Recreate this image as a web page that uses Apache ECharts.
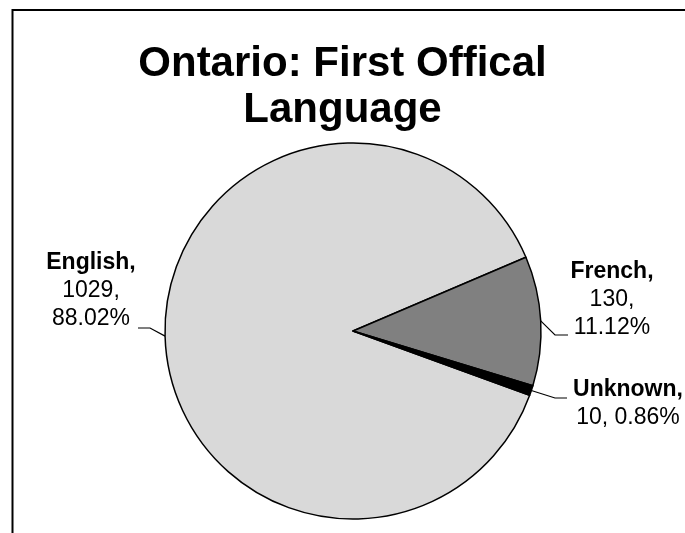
<!DOCTYPE html>
<html>
<head>
<meta charset="utf-8">
<script src="https://cdn.jsdelivr.net/npm/echarts@6/dist/echarts.min.js"></script>
<style>
  html, body { margin: 0; padding: 0; background: #fff; }
  #chart { width: 685px; height: 533px; }
</style>
</head>
<body>
<div id="chart"></div>
<script>
// Ontario residents by first official language spoken
const categories = ['English', 'French', 'Unknown'];
const counts = [1029, 130, 10];
const sliceColors = ['#d9d9d9', '#808080', '#000000'];

const FONT = "'Liberation Sans', Arial, Helvetica, sans-serif";

// Where each callout sits and where its leader line meets the text
const callouts = {
  English: { cx: 91, top: 249, lineY: 328, elbowX: 150, endX: 138 },
  French:  { cx: 612, top: 258, lineY: 335, elbowX: 555, endX: 568 },
  Unknown: { cx: 628, top: 376, lineY: 398, elbowX: 555, endX: 567 }
};
// Labels whose value and percent share one line
const compactLabels = ['Unknown'];

const chart = echarts.init(document.getElementById('chart'), null, { renderer: 'canvas' });

const data = categories.map((name, i) => ({
  name: name,
  value: counts[i],
  itemStyle: { color: sliceColors[i] }
}));

chart.setOption({
  animation: false,
  backgroundColor: '#ffffff',
  title: {
    text: 'Ontario: First Offical\nLanguage',
    left: 'center',
    top: 36,
    textStyle: {
      fontFamily: FONT,
      fontWeight: 'bold',
      fontSize: 42,
      lineHeight: 46,
      color: '#000'
    }
  },
  graphic: [{
    type: 'polyline',
    shape: { points: [[12.5, 533], [12.5, 10], [685, 10]] },
    style: { stroke: '#000', lineWidth: 2, fill: null },
    silent: true
  }],
  series: [{
    type: 'pie',
    center: [353, 331],
    radius: 188,
    startAngle: -20,
    clockwise: true,
    avoidLabelOverlap: false,
    data: data,
    itemStyle: { borderColor: '#000', borderWidth: 1.5 },
    label: {
      show: true,
      position: 'outside',
      color: '#000',
      fontFamily: FONT,
      formatter: function (p) {
        const pct = p.percent.toFixed(2) + '%';
        if (compactLabels.indexOf(p.name) >= 0) {
          return '{b|' + p.name + ',}\n{n|' + p.value + ', ' + pct + '}';
        }
        return '{b|' + p.name + ',}\n{n|' + p.value + ',}\n{n|' + pct + '}';
      },
      rich: {
        b: { fontFamily: FONT, fontWeight: 'bold', fontSize: 23, lineHeight: 28, color: '#000' },
        n: { fontFamily: FONT, fontSize: 23, lineHeight: 28, color: '#000' }
      }
    },
    labelLine: {
      show: true,
      length: 15,
      length2: 12,
      lineStyle: { color: '#000', width: 1.2 }
    },
    labelLayout: function (params) {
      const name = categories[params.dataIndex];
      const c = callouts[name];
      const start = params.labelLinePoints ? params.labelLinePoints[0] : [c.elbowX, c.lineY];
      return {
        x: c.cx,
        y: c.top,
        align: 'center',
        verticalAlign: 'top',
        labelLinePoints: [
          [start[0], start[1]],
          [c.elbowX, c.lineY],
          [c.endX, c.lineY]
        ]
      };
    }
  }]
});
</script>
</body>
</html>
